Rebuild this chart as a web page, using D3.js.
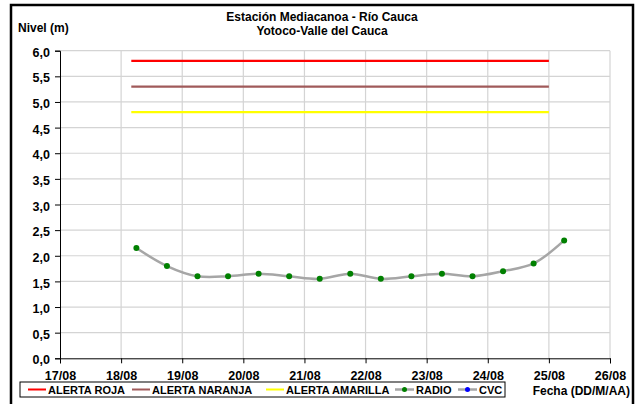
<!DOCTYPE html>
<html><head><meta charset="utf-8">
<script src="https://cdn.jsdelivr.net/npm/d3@7"></script>
<style>
html,body{margin:0;padding:0;background:#fff;}
text{font-family:"Liberation Sans",Arial,sans-serif;font-weight:bold;fill:#000;}
</style></head>
<body><svg id="c" width="640" height="404"></svg>
<script>
const titleLines = ["Estación Mediacanoa - Río Cauca", "Yotoco-Valle del Cauca"];
const yAxisTitle = "Nivel (m)";
const xAxisTitle = "Fecha (DD/M/AA)";
const xTickLabels = ["17/08","18/08","19/08","20/08","21/08","22/08","23/08","24/08","25/08","26/08"];
const yTickValues = [0,0.5,1,1.5,2,2.5,3,3.5,4,4.5,5,5.5,6];
const alertNames = ["ALERTA ROJA","ALERTA NARANJA","ALERTA AMARILLA"];
const alertLevels = [5.8, 5.3, 4.8];
const alertColors = ["#ff0000","#a05a5a","#ffff00"];
const alertSpan = ["18/08 04:00","25/08 00:00"];
const radioTimes = ["18/08 06:00","18/08 18:00","19/08 06:00","19/08 18:00","20/08 06:00","20/08 18:00",
  "21/08 06:00","21/08 18:00","22/08 06:00","22/08 18:00","23/08 06:00","23/08 18:00",
  "24/08 06:00","24/08 18:00","25/08 06:00"];
const radioValues = [2.15,1.80,1.60,1.60,1.65,1.60,1.55,1.65,1.55,1.60,1.65,1.60,1.70,1.85,2.30];
const cvcTimes = [];
const cvcValues = [];
const seriesNames = ["RADIO","CVC"];

const parse = d3.timeParse("%d/%m/%Y %H:%M");
const p = s => parse(s.length === 5 ? s + "/2011 00:00" : s.replace(" ", "/2011 "));

const svg = d3.select("#c");
const L = 60, R = 610, T = 50.7, B = 358.3;
const x = d3.scaleTime().domain([p(xTickLabels[0]), p(xTickLabels[xTickLabels.length-1])]).range([L, R]);
const y = d3.scaleLinear().domain([0, 6]).range([B, T]);

// outer frame
svg.append("rect").attr("x", 11).attr("y", 5).attr("width", 622).attr("height", 420)
  .attr("fill", "none").attr("stroke", "#000").attr("stroke-width", 2.5);

// gridlines
const g = svg.append("g");
g.selectAll(".hg").data(yTickValues.filter(v => v > 0)).enter().append("line")
  .attr("x1", L).attr("x2", R).attr("y1", d => y(d)).attr("y2", d => y(d))
  .attr("stroke", "#d4d4d4").attr("stroke-width", 1.2);
g.selectAll(".vg").data(xTickLabels.slice(1)).enter().append("line")
  .attr("x1", d => x(p(d))).attr("x2", d => x(p(d))).attr("y1", T).attr("y2", B)
  .attr("stroke", "#d4d4d4").attr("stroke-width", 1.2);

// axes
const yAxis = svg.append("g").attr("transform", `translate(${L},0)`)
  .call(d3.axisLeft(y).tickValues(yTickValues).tickFormat(d => d3.format(".1f")(d).replace(".", ",")).tickSize(5).tickPadding(5));
const xAxis = svg.append("g").attr("transform", `translate(0,${B})`)
  .call(d3.axisBottom(x).tickValues(xTickLabels.map(p)).tickFormat((d, i) => xTickLabels[i]).tickSize(5).tickPadding(5));
[yAxis, xAxis].forEach(a => {
  a.select(".domain").attr("stroke", "#000").attr("stroke-width", 1);
  a.selectAll(".tick line").attr("stroke", "#000");
  a.selectAll("text").style("font-family", '"Liberation Sans",Arial,sans-serif').style("font-weight", "bold").style("font-size", "12.5px").attr("fill", "#000");
});
xAxis.selectAll(".tick text").attr("dy", "0.9em");
yAxis.selectAll(".tick text").attr("dy", "0.45em");

// alert lines
svg.selectAll(".al").data(alertLevels).enter().append("line")
  .attr("x1", x(p(alertSpan[0]))).attr("x2", x(p(alertSpan[1])))
  .attr("y1", d => y(d)).attr("y2", d => y(d))
  .attr("stroke", (d, i) => alertColors[i]).attr("stroke-width", 2.2);

// radio series
const radio = radioTimes.map((t, i) => ({t: p(t), v: radioValues[i]}));
const line = d3.line().x(d => x(d.t)).y(d => y(d.v)).curve(d3.curveCatmullRom.alpha(0.5));
svg.append("path").datum(radio).attr("d", line).attr("fill", "none")
  .attr("stroke", "#a6a6a6").attr("stroke-width", 2.5);
svg.selectAll(".pt").data(radio).enter().append("circle")
  .attr("cx", d => x(d.t)).attr("cy", d => y(d.v)).attr("r", 3).attr("fill", "#008000");
const cvc = cvcTimes.map((t, i) => ({t: p(t), v: cvcValues[i]}));
svg.append("path").datum(cvc).attr("d", line).attr("fill", "none").attr("stroke", "#a6a6a6").attr("stroke-width", 2.5);

// titles
svg.append("text").attr("x", 322).attr("y", 21).attr("text-anchor", "middle").style("font-size", "12px").text(titleLines[0]);
svg.append("text").attr("x", 322).attr("y", 35).attr("text-anchor", "middle").style("font-size", "12px").text(titleLines[1]);
svg.append("text").attr("x", 18).attr("y", 32).style("font-size", "12px").text(yAxisTitle);
svg.append("text").attr("x", 630).attr("y", 395).attr("text-anchor", "end").style("font-size", "12px").text(xAxisTitle);

// legend
const lg = svg.append("g");
lg.append("rect").attr("x", 20).attr("y", 382).attr("width", 485).attr("height", 15)
  .attr("fill", "#fff").attr("stroke", "#000").attr("stroke-width", 1);
const items = [
  {name: alertNames[0], color: alertColors[0], x: 28, dot: null},
  {name: alertNames[1], color: alertColors[1], x: 132, dot: null},
  {name: alertNames[2], color: alertColors[2], x: 266, dot: null},
  {name: seriesNames[0], color: "#a6a6a6", x: 395, dot: "#008000"},
  {name: seriesNames[1], color: "#a6a6a6", x: 458, dot: "#0000ff"}
];
items.forEach(it => {
  const w = it.dot ? 19 : 18;
  lg.append("line").attr("x1", it.x).attr("x2", it.x + w).attr("y1", 389.5).attr("y2", 389.5)
    .attr("stroke", it.color).attr("stroke-width", it.dot ? 2.5 : 2);
  if (it.dot) lg.append("circle").attr("cx", it.x + w/2).attr("cy", 389.5).attr("r", 2.5).attr("fill", it.dot);
  lg.append("text").attr("x", it.x + w + 2).attr("y", 393.5).style("font-size", "11px").text(it.name);
});
</script></body></html>
